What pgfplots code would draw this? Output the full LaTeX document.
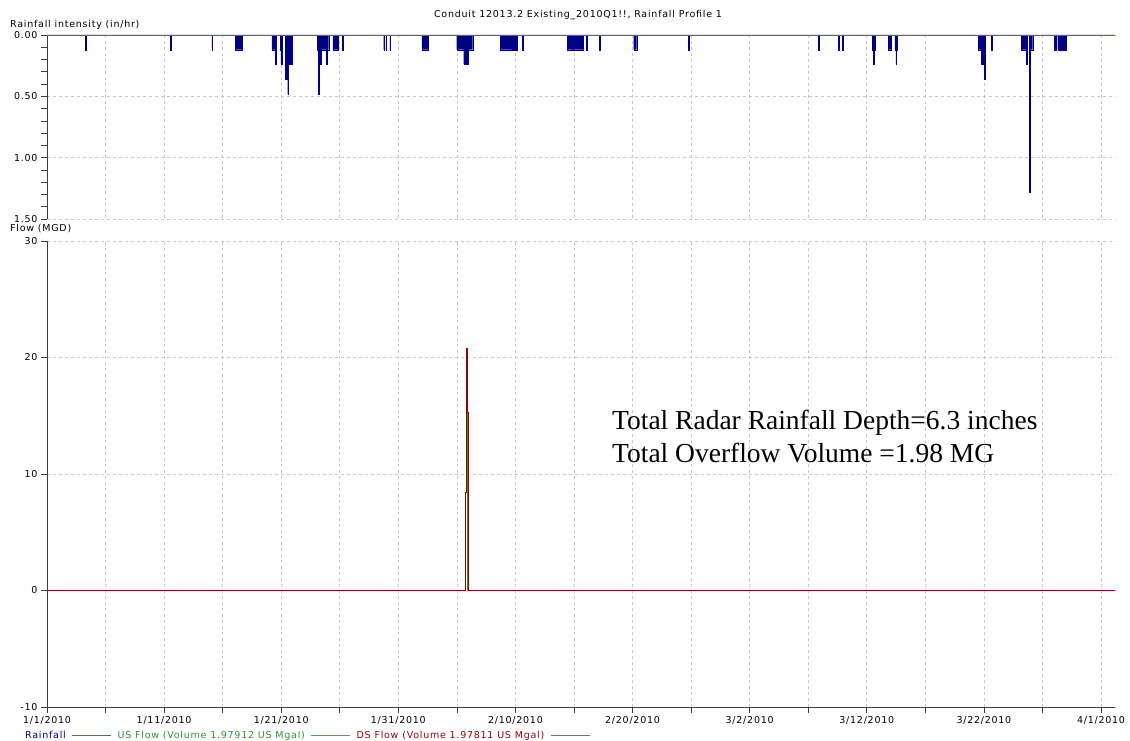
\documentclass[border=0pt]{standalone}
\usepackage{pgfplots}
\pgfplotsset{compat=1.18}
\usepackage{pgfplotstable}
\usepackage{fontspec}
\setmainfont[LetterSpace=8]{DejaVu Sans}
\newfontfamily\annofont{Liberation Serif}

\definecolor{rainnavy}{RGB}{0,0,128}
\definecolor{rainline}{RGB}{90,90,190}
\definecolor{usgreen}{RGB}{40,150,40}
\definecolor{usline}{RGB}{70,170,70}
\definecolor{dsred}{RGB}{150,0,0}
\definecolor{dsline}{RGB}{200,80,80}
\definecolor{gridgray}{RGB}{200,200,200}
\definecolor{axisgray}{RGB}{60,60,60}

% rainfall intensity, step values (in/hr), x = days since 1/1/2010
\pgfplotstableread{
day rain
0 0
3.25 0.12
3.31 0
10.55 0.12
10.61 0
14.08 0.12
14.14 0
16.10 0.12
16.70 0
19.20 0.12
19.48 0.24
19.54 0.12
19.60 0
19.90 0.12
19.98 0.24
20.04 0.12
20.10 0
20.36 0.36
20.55 0.48
20.61 0.24
20.90 0
23.10 0.12
23.16 0.48
23.22 0.12
23.35 0.24
23.41 0.12
23.85 0.24
23.91 0.12
24.05 0
24.40 0.12
24.90 0
25.20 0.12
25.26 0
28.75 0.12
28.81 0
28.93 0.12
28.99 0
29.28 0.12
29.34 0
32.00 0.12
32.55 0
34.98 0.12
35.58 0.24
35.95 0.12
36.35 0
38.70 0.12
39.60 0
39.73 0.12
39.79 0
39.88 0.12
39.94 0
40.08 0.12
40.14 0
40.58 0.12
40.64 0
44.43 0.12
44.83 0
44.94 0.12
45.80 0
46.06 0.12
46.12 0
47.14 0.12
47.20 0
50.10 0.12
50.35 0
54.78 0.12
54.84 0
65.88 0.12
65.94 0
67.58 0.12
67.64 0
67.92 0.12
67.98 0
70.47 0.12
70.58 0.24
70.64 0.12
70.70 0
71.84 0.12
72.10 0
72.40 0.12
72.48 0.24
72.54 0.12
72.60 0
79.50 0.12
79.80 0.24
79.95 0.12
80.02 0.36
80.08 0.12
80.10 0
80.64 0.12
80.70 0
83.20 0.12
83.62 0.24
83.68 0.12
83.72 0
83.90 1.28
83.97 0.12
84.17 0
85.99 0.12
86.05 0
86.13 0.12
86.19 0
86.30 0.12
86.36 0
86.44 0.12
86.50 0
86.56 0.12
86.62 0
86.70 0.12
86.76 0
86.84 0.12
86.90 0
86.95 0.12
87.01 0
91.20 0
}\rainfall

\pgfplotstableread{
day flow
0 0
35.74 8.4
35.80 20.8
35.84 15.3
35.92 0
91.2 0
}\usflow

\pgfplotstableread{
day flow
0 0
35.76 8.4
35.82 20.8
35.86 15.3
35.94 0
91.2 0
}\dsflow

\newcommand\labsize{\fontsize{9.5}{11}\selectfont}

\pgfplotsset{
  chartbase/.style={
    scale only axis, anchor=south west,
    width=1068pt, xmin=0, xmax=91.2,
    xtick={0,5,...,90},
    font=\labsize,
    tick label style={font=\labsize},
    /pgf/number format/assume math mode=true,
    grid=major,
    major grid style={gridgray, dash pattern=on 3pt off 3pt, line width=0.6pt},
    tick align=outside,
    major tick length=6pt, minor tick length=6pt,
    every tick/.style={axisgray, line width=0.7pt},
    axis line style={axisgray, line width=0.8pt, -},
  }
}

\begin{document}
\begin{tikzpicture}
\path[use as bounding box] (0,0) rectangle (1130pt,741pt);

% rainfall panel
\begin{axis}[chartbase,
  at={(47pt,522pt)}, height=184pt,
  ymin=0, ymax=1.5, y dir=reverse,
  axis y line*=left, axis x line*=top,
  x axis line style={draw=none},
  xticklabels={}, xtick style={draw=none},
  ytick={0,0.5,1,1.5},
  minor ytick={0.1,0.2,0.3,0.4,0.6,0.7,0.8,0.9,1.1,1.2,1.3,1.4},
  yticklabel style={/pgf/number format/.cd, fixed, fixed zerofill, precision=2},
]
\addplot[ybar interval, draw=rainnavy, fill=rainnavy, line width=0.3pt] table[x=day, y=rain] {\rainfall};
\addplot[rainline, line width=0.8pt] coordinates {(0,0) (91.2,0)};
\end{axis}

% flow panel
\begin{axis}[chartbase,
  at={(47pt,34pt)}, height=466pt,
  ymin=-10, ymax=30, ytick={-10,0,10,20,30},
  axis x line*=bottom, axis y line*=left,
  xticklabels={1/1/2010,,1/11/2010,,1/21/2010,,1/31/2010,,2/10/2010,,2/20/2010,,3/2/2010,,3/12/2010,,3/22/2010,,4/1/2010},
  legend columns=-1, legend plot pos=right,
  legend style={at={(axis description cs:0,0)}, anchor=north west,
    xshift=-27pt, yshift=-20pt, draw=none, fill=none,
    font=\labsize,
    /tikz/every even column/.append style={column sep=4pt},
    /tikz/every odd column/.append style={column sep=4pt}},
  legend image code/.code={\draw[#1, line width=0.8pt] (0pt,0pt) -- (39pt,0pt);},
]
\addlegendimage{rainline}
\addlegendentry{\textcolor{rainnavy}{Rainfall}}
\addplot[const plot, usgreen, line width=0.8pt, forget plot] table[x=day, y=flow] {\usflow};
\addlegendimage{usline}
\addlegendentry{\textcolor{usgreen}{US Flow (Volume 1.97912 US Mgal)}}
\addplot[const plot, dsred, line width=0.8pt, forget plot] table[x=day, y=flow] {\dsflow};
\addlegendimage{dsline}
\addlegendentry{\textcolor{dsred}{DS Flow (Volume 1.97811 US Mgal)}}
\end{axis}

\node[anchor=base, inner sep=0pt, font=\labsize] at (578pt,723pt)
  {Conduit 12013.2 Existing\_2010Q1!!, Rainfall Profile 1};
\node[anchor=base west, inner sep=0pt, font=\labsize] at (10pt,713pt)
  {Rainfall intensity (in/hr)};
\node[anchor=base west, inner sep=0pt, font=\labsize] at (10pt,509pt)
  {Flow (MGD)};
\node[anchor=base west, inner sep=0pt, font=\annofont\fontsize{27.5}{33}\selectfont] at (612pt,311pt)
  {Total Radar Rainfall Depth=6.3 inches};
\node[anchor=base west, inner sep=0pt, font=\annofont\fontsize{27.5}{33}\selectfont] at (612pt,278pt)
  {Total Overflow Volume =1.98 MG};
\end{tikzpicture}
\end{document}
